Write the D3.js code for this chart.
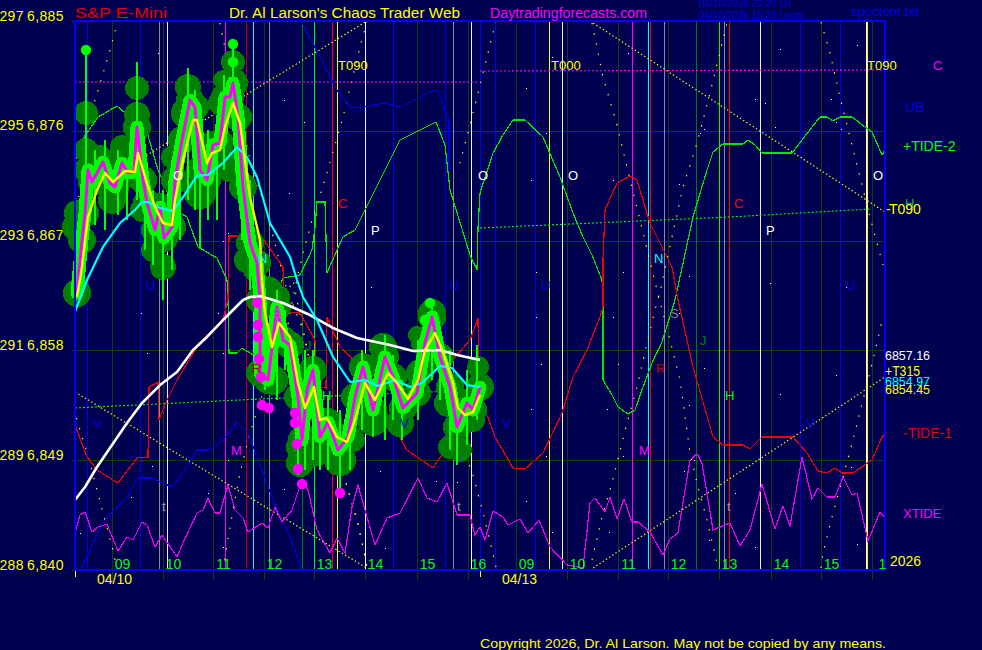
<!DOCTYPE html>
<html><head><meta charset="utf-8">
<script src="https://cdn.jsdelivr.net/npm/d3@7/dist/d3.min.js"></script>
<style>html,body{margin:0;padding:0;background:#000050;overflow:hidden}
text{font-family:"Liberation Sans",Arial,sans-serif}</style></head><body>
<script>
// ---------- axis values ----------
const priceTicks=[6885,6876,6867,6858,6849,6840];
const degreeLabels=[297,295,293,291,289,288];
const hourBars=[37,88,138,189,239,290,342,393,441,492,543,593,644,696,746,797];
const hourLabels=["09","10","11","12","13","14","15","16","09","10","11","12","13","14","15","1"];
const dateBars=[0,405];
const dateLabels=["04/10","04/13"];
// ---------- price series (bar index, price) ----------
const whiteBars=[0,10,22,52,67,85,102,118,132,148,168,175,185,208,235,258,282,315,338,365,382,405];
const whitePrice=[5.74,6.80,8.44,12.05,13.69,15.16,16.23,18.03,19.10,20.49,22.13,22.38,22.46,21.89,20.90,19.84,19.02,18.44,17.95,18.03,17.62,17.21].map(v=>6840+v);
const cyanBars=[0,12,28,45,60,67,73,85,98,108,122,133,148,162,172,182,195,215,222,228,242,258,275,290,303,320,335,347,365,377,392,405];
const cyanPrice=[21.15,23.77,26.48,28.44,29.51,30.16,30.16,29.67,29.43,30.57,32.30,32.38,33.36,34.67,33.85,32.21,28.44,25.66,23.77,22.38,20.49,17.46,15.41,15.57,15.08,15.57,15.0,15.33,16.72,16.56,15.16,15.0].map(v=>6840+v);
const yellowBars=[2,7,13,22,30,38,50,60,63,72,80,88,97,100,108,118,122,132,137,145,150,158,165,175,185,187,190,197,204,215,223,230,239,245,252,262,272,280,290,300,313,322,333,343,350,360,368,378,383,390,398,405];
const yellowPrice=[22.38,24.84,28.93,31.15,32.54,31.80,32.70,32.62,34.18,31.72,29.75,28.44,28.28,30.33,33.61,36.89,36.89,33.36,34.18,34.43,36.31,38.28,36.64,30.57,27.05,23.77,21.07,18.28,20.25,19.10,15.33,13.28,15.0,12.30,12.46,10.90,10.49,12.30,15.33,13.93,16.15,15.33,14.02,15.57,18.03,19.43,17.87,15.33,13.28,12.70,12.95,14.34].map(v=>6840+v);
const closeBars=[2,7,10,13,17,22,28,35,40,47,53,59,62,68,72,80,85,89,97,100,107,115,120,125,132,138,145,150,155,158,163,168,175,182,185,185,193,202,208,215,223,227,232,238,245,253,263,273,280,288,298,310,318,328,342,350,357,365,375,382,392,398,405];
const closePrice=[22.70,27.05,29.26,32.79,31.80,32.54,33.44,31.72,31.39,33.36,32.54,32.62,36.31,31.97,30.08,27.87,29.75,27.21,28.11,31.97,35.25,38.52,37.95,32.79,31.97,34.84,35.0,38.77,38.77,39.92,37.13,31.39,26.80,25.16,22.13,16.15,15.57,21.56,18.85,18.44,14.18,10.66,14.75,16.39,10.90,12.13,9.84,10.90,14.18,16.64,13.11,17.46,15.82,13.28,14.51,18.61,20.74,17.46,15.0,11.72,13.69,13.11,15.0].map(v=>6840+v);
// range spikes
const rangeBars=[11,20,30,43,52,62,70,78,88,97,105,113,120,125,133,142,149,158,167,175,182,190,202,210,223,230,238,245,253,265,275,287,298,310,318,327,343,350,357,365,375,382,392,402];
const rangeHigh=[42.62,34.43,35.25,34.43,33.61,41.64,32.79,31.15,31.15,33.61,36.89,41.15,39.34,37.70,36.07,36.89,40.57,43.11,37.70,31.97,26.23,22.95,22.95,21.31,17.21,18.03,18.03,15.16,14.34,13.11,13.93,18.03,15.57,19.26,17.62,15.57,18.85,19.67,21.89,18.85,18.03,13.93,16.39,18.44].map(v=>6840+v);
const rangeLow=[32.79,28.28,27.87,29.10,28.69,30.33,26.23,25.0,22.13,24.59,27.05,30.33,29.51,26.39,28.69,28.69,32.79,36.89,27.05,22.95,18.03,14.75,13.93,16.39,7.79,8.20,9.02,8.20,8.20,6.56,8.20,11.48,10.90,10.66,12.30,10.66,12.30,15.16,15.57,13.93,9.84,8.61,10.25,12.30].map(v=>6840+v);
// volume blobs
const blobBars=[11,62,62,11,2,0,37,47,25,113,113,148,158,158,145,98,125,88,78,67,172,180,155,192,203,198,225,225,242,265,278,308,298,325,342,357,345,355,373,375,385,403,398];
const blobPrice=[37.46,39.51,37.30,34.43,29.26,28.11,30.33,34.67,33.85,39.59,37.46,40.16,41.64,39.92,38.28,33.85,30.90,24.84,26.23,29.51,25.41,24.59,33.03,22.70,22.38,15.57,10.08,8.77,9.59,9.02,10.66,18.28,12.30,12.05,19.26,21.07,16.15,17.46,13.69,10.08,9.84,16.64,12.30].map(v=>6840+v);
const blobVolume=[12,12,13,12,13,13,14,12,12,13,17,10,12,15,12,12,16,13,12,12,13,12,15,17,12,15,14,14,13,16,12,14,16,14,9,14,14,14,14,12,12,11,12];
// event dots
const lowDotBars=[182,183,183,184,186,187,194,220,220,222,223,227,265];
const lowDotPrice=[21.89,20.08,19.10,17.30,15.82,13.52,13.28,12.87,12.05,10.33,8.28,7.05,6.31].map(v=>6840+v);
const highDotBars=[11,158,158,355,350];
const highDotPrice=[42.62,43.11,41.64,21.89,20.49].map(v=>6840+v);
// ---------- tide series (bar index, oscillator level) ----------
const tide1Bars=[0,12,22,43,62,73,74,83,84,92,102,125,148,153,154,162,170,183,208,209,225,240,242,251,252,265,282,305,332,358,375,375,395,403,404,420,438,450,468,487,498,512,525,528,528,530,542,555,562,575,597,603,618,638,648,668,675,687,718,732,743,752,760,767,778,797,808,810];
const tide1Level=[145,113,100,87,112,113,183,188,150,170,190,228,250,270,334,334,330,338,303,258,257,230,183,182,253,223,207,167,120,102,127,207,230,252,177,133,102,101,117,157,193,220,253,263,310,360,387,394,390,347,303,270,203,133,125,125,121,133,133,117,99,97,102,97,97,110,135,133];
const tide2Bars=[0,5,23,42,72,83,100,112,123,142,152,153,154,162,167,178,208,225,237,240,242,250,252,262,268,280,295,325,345,361,370,375,395,402,403,405,418,428,438,450,468,485,498,508,517,527,528,528,537,543,553,560,568,577,587,600,618,632,638,648,668,673,680,687,717,727,737,745,752,758,765,777,790,797,807,810];
const tide2Level=[407,427,453,464,438,400,360,353,323,312,290,270,217,217,222,215,292,295,320,343,368,368,297,320,333,340,370,430,440,448,425,380,315,300,342,377,417,435,450,450,433,393,357,333,315,290,270,190,175,163,156,160,183,207,228,270,353,400,418,426,426,430,425,417,417,430,443,453,453,449,453,453,443,438,415,420];
const xtideBars=[0,5,10,17,23,32,43,52,58,67,72,80,87,102,108,122,128,133,140,145,153,160,168,173,187,193,200,207,217,227,233,242,255,262,270,277,283,290,300,312,325,343,352,362,372,382,395,400,405,410,418,428,433,445,453,464,475,492,508,515,520,530,535,542,549,557,563,575,588,595,603,615,622,627,638,655,665,675,687,700,708,715,727,737,743,752,760,768,777,782,793,805,810];
const xtideLevel=[37,55,58,38,43,46,19,33,30,48,45,23,35,13,27,57,60,72,57,57,85,60,52,38,47,42,63,48,60,90,80,40,17,32,17,63,85,60,25,52,57,92,72,68,87,55,55,35,43,30,59,53,45,51,37,50,23,5,2,67,72,58,73,51,71,48,48,38,15,31,37,110,116,107,40,47,24,40,86,41,64,44,113,71,82,73,73,93,75,77,29,58,52];
const venusBars=[5,12,28,52,63,77,88,97,112,122,135,148,162,173,182,198,215,227];
const venusLevel=[0,13,48,73,92,92,87,83,103,120,120,130,148,137,113,70,33,0];
const ubBarsA=[0,5];
const ubLevelA=[543,548];
const ubBarsB=[227,245,262,275,285,310,325,355,362,370,374,374];
const ubLevelB=[547,513,480,463,462,467,463,478,480,460,450,400];
// dotted guide lines
const trendA={bars:[0,292],level:[371,549]};
const trendB={bars:[0,295],level:[178,0]};
const trendC={bars:[515,810],level:[549,358]};
const trendD={bars:[515,810],level:[0,193]};
const moonBarsA=[0,403],moonLevelA=[488,488];
const moonBarsB=[405,810],moonLevelB=[499,500];
const tideFlatBarsA=[0,185,403],tideFlatLevelA=[162,171,180];
const tideFlatBarsB=[405,655,795],tideFlatLevelB=[342,353,361];
const arcs=[
 {b:[43,35,27,17,5,0],l:[550,520,493,460,413,395]},
 {b:[42,38,28,15,0],l:[0,20,57,107,157]},
 {b:[148,155,165,175,192,212,218,228,245,265,282,288,292],l:[0,43,97,137,190,277,290,240,160,107,50,23,3]},
 {b:[145,155,165,175,192,212,228,245,265,282,288,292],l:[547,497,457,410,357,280,240,160,107,50,23,3]},
 {b:[292,285,268,252,238,228,218,212],l:[549,523,453,397,353,317,273,240]},
 {b:[421,407,395,383],l:[549,493,445,400]},
 {b:[421,410,398,385],l:[3,50,95,130]},
 {b:[517,528,542,552,565,573,582,595,605,615,623,632,642,655],l:[547,493,445,403,350,317,280,230,190,117,83,50,7]},
 {b:[517,527,537,552,562,572,580,586,608,622,635,643,652],l:[10,53,87,147,183,227,260,283,383,427,477,510,547]},
 {b:[746,755,765,775,785,795,803,810],l:[548,517,473,433,393,353,323,298]},
 {b:[746,748,757,768,778,788,798,808],l:[2,17,53,93,130,170,210,253]}
];
// scattered time marks
const markBars=[83,209,229,214,61,148,153,451,471,456,477,548,629,604,553,461,538,614,625,705,782,680,700,756,761,690,766,695,771,761,776,705,782,680,66,72,77,56,133,5,0,148,143,148,153,296,305,361,382,209,310,461,466,456,471,451,477,538,543,532,548,534,604,629,614,619,660,634,609];
const markLevel=[517,470,448,377,386,329,337,482,437,390,513,298,441,386,517,298,390,294,437,521,525,471,443,471,448,467,441,287,283,195,103,176,26,23,257,217,104,73,77,37,114,23,257,217,110,283,99,89,88,81,22,253,206,161,114,69,38,253,206,161,114,38,257,202,165,110,77,30,99];
// letters on the chart
const chartLetters=[
 ["O",98,390,"#fff"],["O",403,390,"#fff"],["O",493,390,"#fff"],["O",798,390,"#fff"],
 ["P",296,335,"#fff"],["P",691,335,"#fff"],["C",263,362,"#f00"],["C",659,362,"#f00"],
 ["U",71,280,"#0000e0"],["U",375,280,"#0000e0"],["U",466,280,"#0000e0"],["U",771,280,"#0000e0"],
 ["S",198,252,"#808080"],["S",595,252,"#808080"],["N",183,307,"#00ffff"],["N",579,307,"#00ffff"],
 ["R",177,197,"#c00000"],["R",581,197,"#c00000"],["M",156,115,"#ff00ff"],["M",564,115,"#ff00ff"],
 ["V",18,142,"#0000e0"],["V",325,142,"#0000e0"],["V",427,142,"#0000e0"],["V",731,142,"#0000e0"],
 ["J",230,220,"#008000"],["J",625,225,"#008000"],["H",247,170,"#00ff00"],["H",650,170,"#00ff00"],
 ["t",87,59,"#a0a0a0"],["t",382,59,"#a0a0a0"],["t",652,59,"#a0a0a0"],
 ["T090",263,500,"#ffff00"],["T000",476,500,"#ffff00"],["T090",792,500,"#ffff00"]
];
// ---------- page ----------
const W=982,H=650,BG="#000050";
const x=d3.scaleLinear([0,810],[75,885]);
const y=d3.scaleLinear([6840,6885],[570,21]);
const lvl=d3.scaleLinear([0,549],[570,21]);
const svg=d3.select("body").append("svg").attr("width",W).attr("height",H).style("display","block").style("background",BG);
const crisp=g=>g.attr("shape-rendering","crispEdges");
const GRID="#0c400c";
// grid via axes
const gx=svg.append("g").attr("transform","translate(0,570)").call(d3.axisBottom(x).tickValues(hourBars).tickSize(10).tickFormat((d,i)=>hourLabels[i])).call(crisp);
gx.select(".domain").remove();
gx.selectAll(".tick line").attr("stroke",GRID).attr("y1",-549);
gx.selectAll(".tick text").attr("fill","#00ff00").attr("dx",10).attr("y",-1).attr("dy",0).attr("font-size",14).attr("text-anchor","middle").style("font-family",'"Liberation Sans"').raise();
const gy=svg.append("g").attr("transform","translate(75,0)").call(d3.axisLeft(y).tickValues(priceTicks).tickSize(4)).call(crisp);
gy.select(".domain").remove();
gy.selectAll(".tick line").attr("stroke",GRID).attr("x1",-3).attr("x2",810);
gy.selectAll(".tick text").attr("fill","#ffff00").attr("x",-11).attr("dy",0).attr("y",-1).attr("font-size",14).attr("text-anchor","end").style("font-family",'"Liberation Sans"').attr("letter-spacing",0.4);
const gd=svg.append("g").attr("transform","translate(75,0)").call(d3.axisLeft(y).tickValues(priceTicks).tickSize(0).tickFormat((d,i)=>degreeLabels[i]));
gd.select(".domain").remove();
gd.selectAll(".tick text").attr("fill","#ffff00").attr("x",-51).attr("dy",0).attr("y",-1).attr("font-size",14).attr("text-anchor","end").style("font-family",'"Liberation Sans"').attr("letter-spacing",0.4);

// vertical aspect lines
const vlines=[
 [[12,65,318,370,420,460,725,765],"#0000f0",1],
 [[84,194,378,589,649],"#8a8a9a",1],
 [[92,290,396,487,685],"#f0f0ff",1],
 [[150,557],"#ff00ff",1],
 [[171],"#c00000",1],
 [[257,575,654],"#ff0000",1],
 [[178,573],"#00ffff",1],
 [[227,621],"#008000",1],
 [[239,644],"#00ff00",1],
 [[262,474],"#ffff00",1],
 [[405],"#0000ff",1],
 [[792],"#ffff00",1],[[791],"#ffffff",1]
];
const vg=svg.append("g").call(crisp);
vlines.forEach(([bars,col,w])=>vg.selectAll(null).data(bars).join("line")
 .attr("x1",d=>x(d)).attr("x2",d=>x(d)).attr("y1",lvl(549)).attr("y2",lvl(0)).attr("stroke",col).attr("stroke-width",w));

// dotted guides
const pathOf=(xs,ys,sx,sy,curve)=>d3.line().x(i=>sx(xs[i])).y(i=>sy(ys[i])).curve(curve||d3.curveLinear)(d3.range(xs.length));
const dots=svg.append("g");
[trendA,trendB,trendC,trendD].forEach(t=>dots.append("path").attr("d",pathOf(t.bars,t.level,x,lvl)).attr("fill","none").attr("stroke","#ffff00").attr("stroke-width",1.2).attr("stroke-dasharray","1.4 2.4"));
arcs.forEach(t=>dots.append("path").attr("d",pathOf(t.b,t.l,x,lvl)).attr("fill","none").attr("stroke","#ffff00").attr("stroke-width",1.2).attr("stroke-dasharray","1.4 9"));
[[moonBarsA,moonLevelA],[moonBarsB,moonLevelB]].forEach(([a,b])=>dots.append("path").attr("d",pathOf(a,b,x,lvl)).attr("fill","none").attr("stroke","#ff00ff").attr("stroke-width",1.1).attr("stroke-dasharray","2 2"));
[[tideFlatBarsA,tideFlatLevelA],[tideFlatBarsB,tideFlatLevelB]].forEach(([a,b])=>dots.append("path").attr("d",pathOf(a,b,x,lvl)).attr("fill","none").attr("stroke","#00ff00").attr("stroke-width",1.1).attr("stroke-dasharray","2 2"));
svg.append("g").call(crisp).selectAll("rect").data(markBars).join("rect")
 .attr("x",d=>x(d)).attr("y",(d,i)=>lvl(markLevel[i])).attr("width",1.4).attr("height",1.4).attr("fill","#fff");

// tide lines
const tl=svg.append("g").attr("fill","none").call(crisp);
[[venusBars,venusLevel,"#0000d8"],[ubBarsA,ubLevelA,"#0000d8"],[ubBarsB,ubLevelB,"#0000d8"],
 [tide2Bars,tide2Level,"#00e800"],[tide1Bars,tide1Level,"#f00000"],[xtideBars,xtideLevel,"#ee00ee"]]
 .forEach(([a,b,c])=>tl.append("path").attr("d",pathOf(a,b,x,lvl)).attr("stroke",c).attr("stroke-width",1.2));

// blobs
const blobs=svg.append("g").attr("fill","#008000").call(crisp);
blobs.selectAll(".a").data(closeBars).join("circle").attr("class","a").attr("cx",d=>x(d)).attr("cy",(d,i)=>y(closePrice[i])).attr("r",14);
blobs.selectAll(".b").data(blobBars).join("circle").attr("class","b").attr("cx",d=>x(d)).attr("cy",(d,i)=>y(blobPrice[i])).attr("r",(d,i)=>blobVolume[i]);
// lime ribbon + spikes
const lineP=d3.line().x(i=>x(closeBars[i])).y(i=>y(closePrice[i]));
svg.append("path").attr("d",lineP(d3.range(closeBars.length))).attr("fill","none").attr("stroke","#00ff00").attr("stroke-width",13).attr("stroke-linejoin","round").attr("stroke-linecap","round").attr("shape-rendering","crispEdges");
svg.append("g").call(crisp).selectAll("line").data(rangeBars).join("line")
 .attr("x1",d=>x(d)).attr("x2",d=>x(d)).attr("y1",(d,i)=>y(rangeHigh[i])).attr("y2",(d,i)=>y(rangeLow[i])).attr("stroke","#00ff00").attr("stroke-width",1.5);
// moving lines
const ml=svg.append("g").attr("fill","none").attr("stroke-linejoin","round");
[[closeBars,closePrice,"#ff00ff",3],[whiteBars,whitePrice,"#ffffff",2.6],[cyanBars,cyanPrice,"#00ffff",2.2],[yellowBars,yellowPrice,"#ffff00",2.4]]
 .forEach(([a,b,c,w])=>ml.append("path").attr("d",pathOf(a,b,x,y)).attr("stroke",c).attr("stroke-width",w));
// dots
svg.append("g").attr("fill","#ff00ff").selectAll("circle").data(lowDotBars).join("circle").attr("cx",d=>x(d)).attr("cy",(d,i)=>y(lowDotPrice[i])).attr("r",5.2);
svg.append("g").attr("fill","#00ff00").selectAll("circle").data(highDotBars).join("circle").attr("cx",d=>x(d)).attr("cy",(d,i)=>y(highDotPrice[i])).attr("r",5.2);

// frame
const fr=svg.append("g").call(crisp);
fr.append("line").attr("x1",x(0)).attr("x2",x(810)).attr("y1",y(6885)).attr("y2",y(6885)).attr("stroke","#0000ff").attr("stroke-width",2);
fr.append("line").attr("x1",x(0)).attr("x2",x(810)).attr("y1",y(6840)).attr("y2",y(6840)).attr("stroke","#0000ff").attr("stroke-width",2);
fr.append("line").attr("x1",x(0)).attr("x2",x(0)).attr("y1",y(6885)).attr("y2",y(6840)).attr("stroke","#0000ff").attr("stroke-width",2);
fr.append("line").attr("x1",x(810)).attr("x2",x(810)).attr("y1",y(6885)).attr("y2",y(6840)).attr("stroke","#0000ff").attr("stroke-width",2);
gx.raise();
gx.selectAll(".tick line").remove();
const gridBelow=svg.append("g").call(crisp).selectAll("line").data(hourBars).join("line").attr("x1",d=>x(d)).attr("x2",d=>x(d)).attr("y1",571).attr("y2",580).attr("stroke",GRID);
const gridUnder=svg.insert("g","g").call(crisp).selectAll("line").data(hourBars).join("line").attr("x1",d=>x(d)).attr("x2",d=>x(d)).attr("y1",21).attr("y2",570).attr("stroke",GRID);

// date axis labels
svg.append("g").selectAll("text").data(dateBars).join("text").attr("x",d=>x(d)+22).attr("y",584).attr("fill","#ffff00").attr("font-size",14).text((d,i)=>dateLabels[i]);
svg.append("g").call(crisp).selectAll("line").data(dateBars).join("line").attr("x1",d=>x(d)).attr("x2",d=>x(d)).attr("y1",571).attr("y2",577).attr("stroke","#ffff00");
// chart letters
svg.append("g").selectAll("text").data(chartLetters).join("text").attr("x",d=>x(d[1])).attr("y",d=>lvl(d[2])).attr("fill",d=>d[3]).attr("font-size",13).text(d=>d[0]);
// header + right labels
const txt=[
 ["S&P E-Mini",75,18,14,"#e00000",92],
 ["Dr. Al Larson's Chaos Trader Web",229,18,14,"#ffff00",231],
 ["Daytradingforecasts.com",490,18,14,"#ff00ff",157],
 ["04/10/2026 20:20 UT",699,7,10,"#0000e0",0],
 ["04/10/2026 15:20 Local",699,19,10,"#0000e0",0],
 ["spcctom.txt",851,16,13,"#0000e0",68],
 ["C",933,70,13,"#ff00ff",0],
 ["UB",905,112,14,"#0000e0",0],
 ["+TIDE-2",903,151,14,"#00ff00",0],
 ["H",905,208,13,"#00c000",0],
 ["-",886,214,14,"#ffff00",0],
 ["T090",889,214,14,"#ffff00",0],
 ["6857.16",885,360,13,"#ffffff",45],
 ["+T315",885,376,14,"#ffff00",35],
 ["6854.97",885,386,13,"#00ffff",45],
 ["6854.45",885,394,13,"#ffff00",45],
 ["-TIDE-1",903,438,14,"#e00000",0],
 ["XTIDE",903,518,13,"#ff00ff",0],
 ["2026",890,566,14,"#ffff00",0],
 ["Copyright 2026, Dr. Al Larson. May not be copied by any means.",480,648,13,"#ffff00",406]
];
svg.append("g").selectAll("text").data(txt).join("text").attr("x",d=>d[1]).attr("y",d=>d[2]).attr("font-size",d=>d[3]).attr("fill",d=>d[4])
 .each(function(d){if(d[5])d3.select(this).attr("textLength",d[5]).attr("lengthAdjust","spacingAndGlyphs");}).text(d=>d[0]);
</script></body></html>
